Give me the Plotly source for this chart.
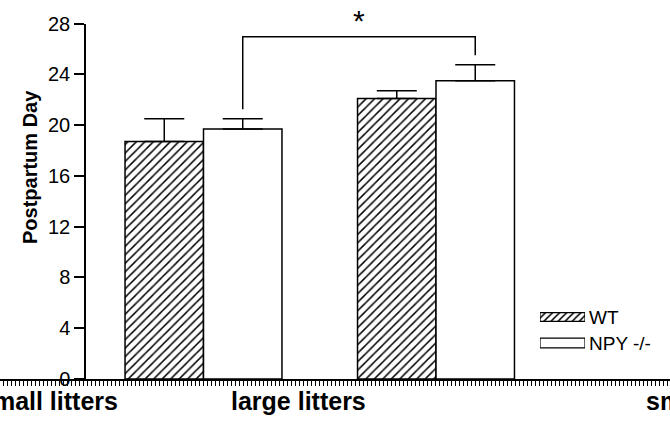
import plotly.graph_objects as go

# ---- data ----
categories = ["small litters", "large litters"]
groups = ["WT", "NPY -/-"]
wt_mean = [18.7, 22.1]
wt_sem = [1.8, 0.6]
npy_mean = [19.7, 23.5]
npy_sem = [0.8, 1.25]
y_ticks = [0, 4, 8, 12, 16, 20, 24, 28]
sig_label = "*"

W, H = 670, 421
FONT = "Liberation Sans, Arial, Helvetica, sans-serif"

x_pos = list(range(len(categories)))
bargap = 0.325
bar_w = (1 - bargap) / 2

hatch = dict(shape="/", fgcolor="black", bgcolor="white", size=6, solidity=0.25)

fig = go.Figure()
fig.add_trace(go.Bar(
    x=x_pos, y=wt_mean, name=groups[0],
    marker=dict(color="white", line=dict(color="black", width=1.5), pattern=hatch),
    error_y=dict(type="data", array=wt_sem, arrayminus=[0] * len(wt_sem), symmetric=False,
                 color="black", thickness=1.5, width=20),
))
fig.add_trace(go.Bar(
    x=x_pos, y=npy_mean, name=groups[1],
    marker=dict(color="white", line=dict(color="black", width=1.5)),
    error_y=dict(type="data", array=npy_sem, arrayminus=[0] * len(npy_sem), symmetric=False,
                 color="black", thickness=1.5, width=20),
))

# legend swatches in a mini axis
fig.add_trace(go.Bar(
    y=[0], x=[1], orientation="h", width=0.33, xaxis="x2", yaxis="y2",
    marker=dict(color="white", line=dict(color="black", width=1.2),
                pattern=dict(shape="/", fgcolor="black", bgcolor="white", size=5, solidity=0.3)),
    hoverinfo="skip",
))
fig.add_trace(go.Bar(
    y=[1], x=[1], orientation="h", width=0.38, xaxis="x2", yaxis="y2",
    marker=dict(color="white", line=dict(color="black", width=1.2)),
    hoverinfo="skip",
))

# significance bracket between NPY small and NPY large
off = bar_w / 2
xl = x_pos[0] + off
xr = x_pos[1] + off
yl = npy_mean[0] + npy_sem[0] + 0.75
yr = npy_mean[1] + npy_sem[1] + 0.75
ytop = 26.95
fig.add_shape(type="path", xref="x", yref="y",
              path=f"M{xl},{yl} L{xl},{ytop} L{xr},{ytop} L{xr},{yr}",
              line=dict(color="black", width=1.5))

annotations = [
    dict(x=(xl + xr) / 2, y=1 - 20 / H, xref="x", yref="paper", text=sig_label,
         showarrow=False, xanchor="center", yanchor="middle",
         font=dict(family=FONT, size=30, color="black")),
    dict(x=30 / W, y=1 - 167 / H, xref="paper", yref="paper", text="<b>Postpartum Day</b>",
         textangle=-90, showarrow=False, xanchor="center", yanchor="middle",
         font=dict(family=FONT, size=20, color="black")),
    dict(x=120 / W, y=1 - 401 / H, xref="paper", yref="paper", text=f"<b>{categories[0]}</b>",
         xanchor="right", yanchor="middle", showarrow=False,
         font=dict(family=FONT, size=25, color="black")),
    dict(x=229 / W, y=1 - 401 / H, xref="paper", yref="paper", text=f"<b>{categories[1]}</b>",
         xanchor="left", yanchor="middle", showarrow=False,
         font=dict(family=FONT, size=25, color="black")),
    dict(x=644 / W, y=1 - 401 / H, xref="paper", yref="paper", text=f"<b>{categories[0]}</b>",
         xanchor="left", yanchor="middle", showarrow=False,
         font=dict(family=FONT, size=25, color="black")),
]
for i, g in enumerate(groups):
    annotations.append(dict(x=587 / W, y=i, xref="paper", yref="y2", text=g,
                            xanchor="left", yanchor="middle", showarrow=False,
                            font=dict(family=FONT, size=19, color="black")))

px_per_unit = 232.5
xmin = -203.5 / px_per_unit
xmax = (W - 203.5) / px_per_unit

fig.update_layout(
    template="none",
    width=W, height=H,
    margin=dict(l=0, r=0, t=0, b=0, pad=0, autoexpand=False),
    paper_bgcolor="white", plot_bgcolor="white",
    barmode="group", bargap=bargap, bargroupgap=0,
    showlegend=False,
    font=dict(family=FONT, color="black"),
    xaxis=dict(domain=[0, 1], range=[xmin, xmax], showgrid=False, zeroline=False,
               showline=True, linecolor="black", linewidth=1.5, automargin=False,
               ticks="outside", tick0=0, dtick=4 / px_per_unit, ticklen=5, tickwidth=1,
               tickcolor="black", showticklabels=False, fixedrange=True),
    yaxis=dict(domain=[42 / H, 397.5 / H], range=[0, 28], anchor="free", position=85 / W,
               tickvals=y_ticks, ticks="outside", ticklen=10, tickwidth=1.5, tickcolor="black",
               showline=True, linecolor="black", linewidth=1.5, showgrid=False, zeroline=False,
               automargin=False,
               tickfont=dict(family=FONT, size=20, color="black"), fixedrange=True),
    xaxis2=dict(domain=[540 / W, 585 / W], range=[0, 1], anchor="y2", visible=False,
                automargin=False, fixedrange=True),
    yaxis2=dict(domain=[(H - 356) / H, (H - 304) / H], range=[1.5, -0.5], anchor="x2",
                visible=False, automargin=False, fixedrange=True),
    annotations=annotations,
)

fig.write_html("out.html", config={"displayModeBar": False},
               post_script="document.body.style.margin='0';")
